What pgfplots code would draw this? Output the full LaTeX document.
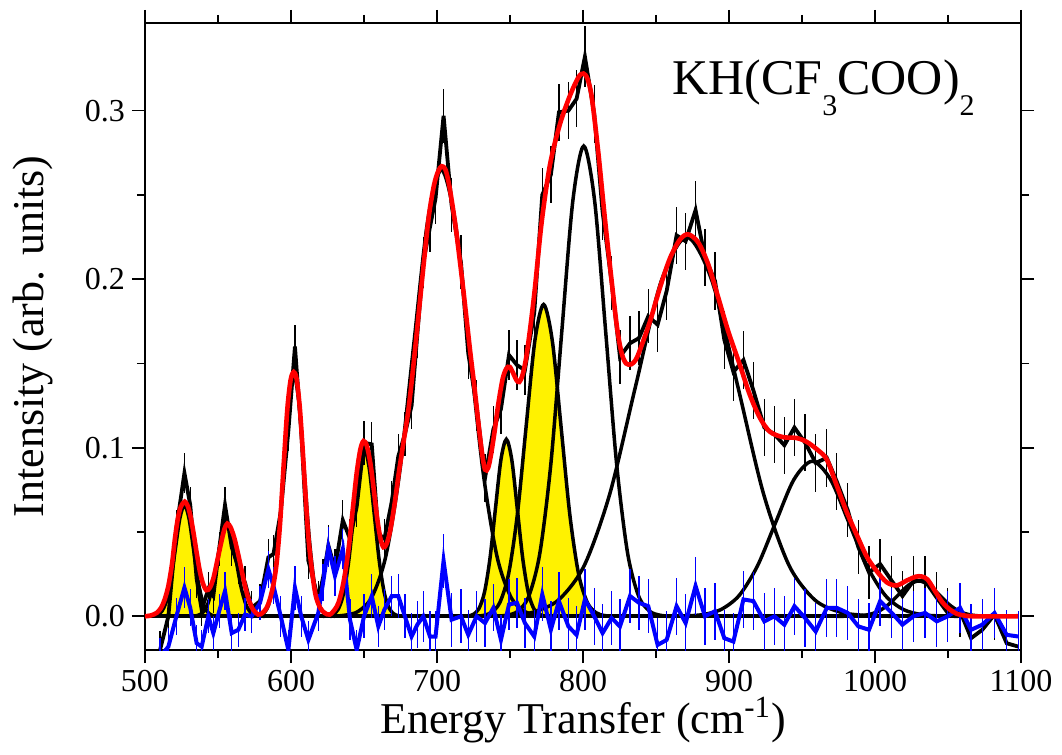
\documentclass[border=0pt]{standalone}
\usepackage{fontspec}
\setmainfont{Liberation Serif}
\usepackage{pgfplots}
\usepackage{pgfplotstable}
\pgfplotsset{compat=1.18}

% measured spectrum: x, data, residual, error
\pgfplotstableread{
x d r e
506 -0.033 -0.035 0.011
510.3 -0.020 -0.024 0.011
516 0.000 -0.018 0.011
521.5 0.052 0.000 0.011
527 0.085 0.017 0.012
531 0.066 0.005 0.011
535.4 0.022 -0.016 0.011
538.8 0.004 -0.018 0.010
543.4 0.016 0.000 0.010
546.8 0.012 -0.010 0.010
550.8 0.040 0.003 0.010
554.8 0.066 0.015 0.011
559.4 0.041 -0.010 0.011
563.9 0.029 -0.008 0.010
568.5 0.020 0.001 0.010
573 0.005 0.000 0.010
578.8 0.009 0.008 0.010
584.5 0.035 0.028 0.011
588 0.037 0.018 0.011
593 0.062 0.000 0.012
598.2 0.110 -0.020 0.012
602.7 0.160 0.017 0.013
607 0.110 0.000 0.012
611.9 0.033 -0.014 0.011
618.7 0.010 0.002 0.011
622 0.023 0.020 0.011
625.6 0.042 0.041 0.012
630.1 0.028 0.024 0.012
635.5 0.057 0.040 0.012
640.4 0.046 -0.002 0.012
645 0.065 -0.020 0.012
650 0.103 0.000 0.013
655.3 0.102 0.012 0.013
659.8 0.049 -0.006 0.012
664 0.046 0.004 0.012
669 0.068 0.012 0.012
673.5 0.095 0.012 0.013
678 0.108 0.000 0.013
682.6 0.125 -0.012 0.014
686.5 0.167 -0.005 0.014
690.6 0.210 0.000 0.015
695.2 0.231 -0.012 0.015
699 0.248 -0.012 0.015
704.5 0.297 0.033 0.016
710 0.244 -0.002 0.016
716.4 0.210 0.000 0.016
721.4 0.156 -0.011 0.015
727.1 0.125 0.000 0.015
732.9 0.082 -0.004 0.014
738.6 0.111 0.005 0.014
743.8 0.123 -0.014 0.015
749.3 0.155 0.007 0.015
754.8 0.149 0.008 0.015
760.2 0.146 -0.004 0.015
766.6 0.180 -0.012 0.016
772.1 0.250 0.013 0.016
778 0.262 -0.008 0.017
783.5 0.299 0.009 0.017
790 0.300 -0.006 0.017
795.6 0.307 -0.011 0.017
801.3 0.332 0.010 0.018
807.7 0.298 0.000 0.017
813.4 0.240 -0.010 0.017
819.6 0.198 -0.001 0.016
825.3 0.154 -0.006 0.016
832.2 0.162 0.012 0.016
838.3 0.165 0.008 0.016
844.7 0.178 0.006 0.016
851.1 0.173 -0.017 0.016
857.3 0.193 -0.014 0.017
864.1 0.226 0.006 0.017
870.3 0.2225 -0.004 0.017
877.1 0.241 0.018 0.017
883.5 0.213 0.000 0.017
890.4 0.199 0.003 0.017
896.8 0.164 -0.013 0.017
903 0.145 -0.015 0.017
909.9 0.152 0.010 0.017
916.7 0.134 0.009 0.017
924.2 0.112 -0.003 0.017
931.1 0.108 0.000 0.017
937.9 0.1015 -0.005 0.017
944.8 0.112 0.006 0.017
952.1 0.103 -0.001 0.017
959.4 0.091 -0.009 0.017
967 0.094 0.005 0.017
973.8 0.080 0.005 0.017
981.3 0.063 0.002 0.016
988.6 0.041 -0.006 0.016
995.9 0.026 -0.008 0.016
1003.5 0.031 0.009 0.015
1011.5 0.021 0.002 0.015
1018.8 0.012 -0.005 0.015
1026.3 0.021 0.000 0.015
1034.3 0.021 0.002 0.015
1042.3 0.011 -0.003 0.015
1049.8 0.002 0.000 0.015
1058.3 0.003 0.005 0.015
1065.8 -0.013 -0.008 0.015
1073.5 -0.008 -0.005 0.015
1081.8 0.001 0.002 0.015
1090.2 -0.016 -0.011 0.015
1098.2 -0.018 -0.012 0.015
}\dat

% total fit
\pgfplotstableread{
x y
500 0
504 0.0005
508 0.002
511 0.005
513.5 0.010
516 0.018
518.5 0.031
520.5 0.046
522.5 0.058
524.5 0.065
527.2 0.068
529.5 0.065
531.5 0.058
533.5 0.048
535.5 0.037
537.5 0.027
539.5 0.020
542 0.0155
544.5 0.017
547 0.023
549.5 0.033
552.5 0.045
554.5 0.052
556.4 0.055
558.5 0.053
561 0.047
563.5 0.038
566 0.028
568.5 0.018
571 0.010
574 0.004
577.5 0.001
580.5 0.002
583.3 0.005
585.5 0.010
588 0.019
590.2 0.032
592.5 0.055
595 0.090
597.5 0.123
599.7 0.140
601.8 0.145
603.8 0.141
606 0.124
608 0.099
610 0.071
612 0.046
614.5 0.026
617 0.012
620 0.005
623 0.002
626.5 0.001
630 0.004
632.5 0.008
635 0.016
637.5 0.028
640 0.044
642.5 0.065
645 0.085
647.5 0.099
649.7 0.104
652 0.101
654.5 0.090
657 0.073
659.2 0.057
661.3 0.046
663.3 0.041
665.5 0.043
668 0.051
671 0.067
674 0.086
677 0.103
680.5 0.123
684 0.150
687.5 0.180
691 0.210
694.5 0.238
698 0.256
700.8 0.264
703.2 0.267
705.8 0.265
708.5 0.255
712.3 0.234
715.5 0.212
718.5 0.190
722.6 0.158
725.5 0.137
728.3 0.115
730.8 0.097
732.9 0.087
735 0.088
737 0.096
739.5 0.110
742 0.126
745 0.141
747.5 0.147
749.8 0.148
752.3 0.144
754.5 0.140
756.4 0.139
758.5 0.143
761 0.153
764 0.172
767.1 0.195
771.7 0.234
777.4 0.268
784.2 0.292
791.1 0.309
797 0.320
800.3 0.322
803 0.319
806 0.308
810.5 0.275
815.1 0.235
819.6 0.199
823.5 0.170
826.5 0.156
829.5 0.150
833 0.1495
836 0.152
839 0.158
845.9 0.175
852.7 0.195
859.6 0.2125
866.4 0.2235
872.1 0.2266
879 0.2217
885.8 0.2087
892.7 0.1889
899.5 0.169
907.5 0.149
914 0.132
921 0.118
928 0.1095
937 0.1063
946 0.1058
953 0.1036
961 0.0985
967 0.093
973.7 0.0778
980.6 0.0619
987.4 0.0485
994.3 0.0355
1001 0.027
1008 0.0202
1014.8 0.0183
1021.7 0.0212
1028 0.0235
1032 0.0236
1036 0.0218
1041.1 0.0150
1046 0.0085
1051 0.0042
1056 0.0015
1061 0.0005
1068 0
1098 0
}\fit

% fitted components
\pgfplotstableread{
x y
502.2 0
505.3 0.00015
508.4 0.0007
511.5 0.0029
514.6 0.0089
517.7 0.0214
520.8 0.0400
523.9 0.0582
527 0.066
530.1 0.0582
533.2 0.0400
536.3 0.0214
539.4 0.0089
542.5 0.0029
545.6 0.0007
548.7 0.00015
551.8 0
}\cA
\pgfplotstableread{
x y
530 0
533.25 0.00012
536.5 0.0006
539.75 0.0024
543 0.0073
546.25 0.0175
549.5 0.0328
552.75 0.0477
556 0.054
559.25 0.0477
562.5 0.0328
565.75 0.0175
569 0.0073
572.25 0.0024
575.5 0.0006
578.75 0.00012
582 0
}\cB
\pgfplotstableread{
x y
574 0
577.5 0.0003
581 0.0016
584.5 0.0063
588 0.0193
591.5 0.0464
595 0.0867
598.5 0.1262
602 0.143
605.5 0.1262
609 0.0867
612.5 0.0464
616 0.0193
619.5 0.0063
623 0.0016
626.5 0.0003
630 0
}\cC
\pgfplotstableread{
x y
622 0
625.5 0.0002
629 0.0011
632.5 0.0044
636 0.0135
639.5 0.0325
643 0.0607
646.5 0.0883
650 0.100
653.5 0.0883
657 0.0607
660.5 0.0325
664 0.0135
667.5 0.0044
671 0.0011
674.5 0.0002
678 0
}\cD
\pgfplotstableread{
x y
627 0
636.5 0.0006
646 0.0029
655.5 0.0116
665 0.0359
674.5 0.0860
684 0.1607
693.5 0.2339
703 0.265
712.5 0.2339
722 0.1607
731.5 0.0860
741 0.0359
750.5 0.0116
760 0.0029
769.5 0.0006
779 0
}\cE
\pgfplotstableread{
x y
717.5 0
721.25 0.0002
725 0.0012
728.75 0.0046
732.5 0.0142
736.25 0.0341
740 0.0637
743.75 0.0927
747.5 0.105
751.25 0.0927
755 0.0637
758.75 0.0341
762.5 0.0142
766.25 0.0046
770 0.0012
773.75 0.0002
777.5 0
}\cF
\pgfplotstableread{
x y
725 0
731 0.0004
737 0.0021
743 0.0081
749 0.0250
755 0.0601
761 0.1122
767 0.1633
773 0.185
779 0.1633
785 0.1122
791 0.0601
797 0.0250
803 0.0081
809 0.0021
815 0.0004
821 0
}\cG
\pgfplotstableread{
x y
740.5 0
748 0.0006
755.5 0.0031
763 0.0122
770.5 0.0377
778 0.0906
785.5 0.1692
793 0.2462
800.5 0.279
808 0.2462
815.5 0.1692
823 0.0906
830.5 0.0377
838 0.0122
845.5 0.0031
853 0.0006
860.5 0
}\cH
\pgfplotstableread{
x y
731 0
748.5 0.0005
766 0.0025
783.5 0.0099
801 0.0304
818.5 0.0731
836 0.1365
853.5 0.1986
871 0.225
888.5 0.1986
906 0.1365
923.5 0.0731
941 0.0304
958.5 0.0099
976 0.0025
993.5 0.0005
1011 0
}\cI
\pgfplotstableread{
x y
857 0
869.5 0.0002
882 0.0010
894.5 0.0040
907 0.0124
919.5 0.0299
932 0.0558
944.5 0.0812
957 0.092
969.5 0.0812
982 0.0558
994.5 0.0299
1007 0.0124
1019.5 0.0040
1032 0.0010
1044.5 0.0002
1057 0
}\cJ
\pgfplotstableread{
x y
974 0
981 0.00005
988 0.0002
995 0.0009
1002 0.0028
1009 0.0068
1016 0.0127
1023 0.0185
1030 0.021
1037 0.0185
1044 0.0127
1051 0.0068
1058 0.0028
1065 0.0009
1072 0.0002
1079 0.00005
1086 0
}\cK

\begin{document}
\begin{tikzpicture}
\begin{axis}[name=ax, scale only axis, width=438pt, height=313.5pt,
  xmin=500, xmax=1100, ymin=-0.02, ymax=0.352,
  xtick={500,600,...,1100}, minor x tick num=1,
  ytick={0,0.1,0.2,0.3}, minor y tick num=1,
  tick align=outside, major tick length=6.5pt, minor tick length=4pt,
  tick style={black, line width=0.8pt},
  axis line style={black, line width=0.9pt},
  /pgf/number format/assume math mode=true,
  ticklabel style={font=\fontsize{16}{16}\selectfont},
  xticklabel style={/pgf/number format/set thousands separator={}},
  yticklabel style={/pgf/number format/fixed, /pgf/number format/fixed zerofill, /pgf/number format/precision=1},
  xlabel={Energy Transfer (cm\textsuperscript{-1})},
  ylabel={Intensity (arb. units)},
  label style={font=\fontsize{22}{22}\selectfont},
  xlabel style={at={(axis description cs:0.5,-0.1324)}, anchor=base},
  ylabel style={at={(axis description cs:-0.128,0.5)}, anchor=center},
]
% yellow fills
\addplot[fill=yellow, draw=none, smooth] table {\cA} \closedcycle;
\addplot[fill=yellow, draw=none, smooth] table {\cB} \closedcycle;
\addplot[fill=yellow, draw=none, smooth] table {\cD} \closedcycle;
\addplot[fill=yellow, draw=none, smooth] table {\cF} \closedcycle;
\addplot[fill=yellow, draw=none, smooth] table {\cG} \closedcycle;
% component outlines
\addplot[black, line width=1.75pt, smooth] table {\cA};
\addplot[black, line width=1.75pt, smooth] table {\cB};
\addplot[black, line width=1.75pt, smooth] table {\cC};
\addplot[black, line width=1.75pt, smooth] table {\cD};
\addplot[black, line width=1.75pt, smooth] table {\cE};
\addplot[black, line width=1.75pt, smooth] table {\cF};
\addplot[black, line width=1.75pt, smooth] table {\cG};
\addplot[black, line width=1.75pt, smooth] table {\cH};
\addplot[black, line width=1.75pt, smooth] table {\cI};
\addplot[black, line width=1.75pt, smooth] table {\cJ};
\addplot[black, line width=1.75pt, smooth] table {\cK};
% baseline
\addplot[black, line width=2.2pt] coordinates {(500,0) (1098,0)};
% data
\addplot[black, line width=1.9pt, mark=none,
  error bars/.cd, y dir=both, y explicit, error mark=none,
  error bar style={line width=0.65pt, black}]
  table[x=x, y=d, y error=e] {\dat};
% residual
\addplot[blue, line width=2pt, mark=none,
  error bars/.cd, y dir=both, y explicit, error mark=none,
  error bar style={line width=0.65pt, blue}]
  table[x=x, y=r, y error=e] {\dat};
% fit
\addplot[red, line width=2.3pt, smooth] table {\fit};
\node[anchor=base west, inner sep=0pt, font=\fontsize{25}{25}\selectfont] at (axis cs:861,0.3095)
  {KH(CF\raisebox{-10.5pt}{\fontsize{15}{15}\selectfont 3}COO)\raisebox{-10.5pt}{\fontsize{15}{15}\selectfont 2}};
\end{axis}
\pgfresetboundingbox
\path[use as bounding box] ([shift={(-72.5pt,-52pt)}]ax.south west) rectangle ([shift={(20.5pt,11.5pt)}]ax.north east);
\end{tikzpicture}
\end{document}
